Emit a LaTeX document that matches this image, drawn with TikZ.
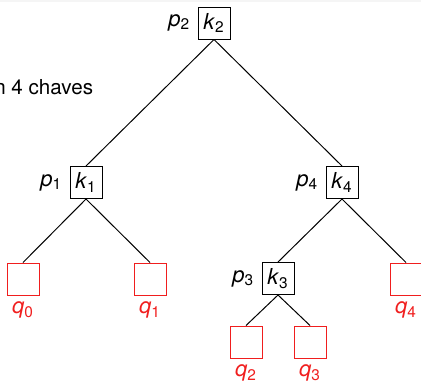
\documentclass[tikz,border=0pt]{standalone}
\usepackage{fontspec}
\setmainfont{TeX Gyre Heros}
\usepackage{xcolor}
\usepackage{tikz}
\usetikzlibrary{positioning}
\definecolor{leafred}{RGB}{240, 30, 30}
\newcommand{\idx}[2]{\textit{#1}\textsubscript{#2}}

\begin{document}
\begin{tikzpicture}[x=0.5pt, y=-0.5pt,
    keybox/.style={draw, line width=0.5pt, minimum size=16pt, inner sep=0pt},
    leafbox/.style={draw=leafred, line width=0.5pt, minimum size=16pt, inner sep=0pt},
    lbl/.style={inner sep=1pt},
    leaflbl/.style={text=leafred, inner sep=0pt},
    edge/.style={line width=0.5pt}]
    \useasboundingbox (0,0) rectangle (421,382);
    \fill[gray!8] (0,0) rectangle (421,1.5);
    \fontsize{11}{13}\selectfont
    % internal nodes
    \node[keybox] (k2) at (214,23) {\idx{k}{2}};
    \node[keybox] (k1) at (86,182.5) {\idx{k}{1}};
    \node[keybox] (k4) at (342,182.5) {\idx{k}{4}};
    \node[keybox] (k3) at (278,278.5) {\idx{k}{3}};
    \node[lbl, left=2.5pt of k2] (p2) {\idx{p}{2}};
    \node[lbl, left=2.5pt of k1] (p1) {\idx{p}{1}};
    \node[lbl, left=2.5pt of k4] (p4) {\idx{p}{4}};
    \node[lbl, left=2.5pt of k3] (p3) {\idx{p}{3}};
    % leaves
    \node[leafbox] (q0) at (23,279) {};
    \node[leafbox] (q1) at (150,279) {};
    \node[leafbox] (q4) at (406,279) {};
    \node[leafbox] (q2) at (246,342) {};
    \node[leafbox] (q3) at (310,342) {};
    \foreach \q/\i in {q0/0, q1/1, q4/4, q2/2, q3/3}
        \node[leaflbl, below=3pt of \q] (l\q) {\idx{q}{\i}};
    \node[anchor=east, inner sep=0pt, font=\fontsize{10.3}{12}\selectfont] (txt) at (93.5,87) {n 4 chaves};
    % edges
    \draw[edge] (k2.south) -- (k1.north);
    \draw[edge] (k2.south) -- (k4.north);
    \draw[edge] (k1.south) -- (q0.north);
    \draw[edge] (k1.south) -- (q1.north);
    \draw[edge] (k4.south) -- (k3.north);
    \draw[edge] (k4.south) -- (q4.north);
    \draw[edge] (k3.south) -- (q2.north);
    \draw[edge] (k3.south) -- (q3.north);
\end{tikzpicture}
\end{document}
